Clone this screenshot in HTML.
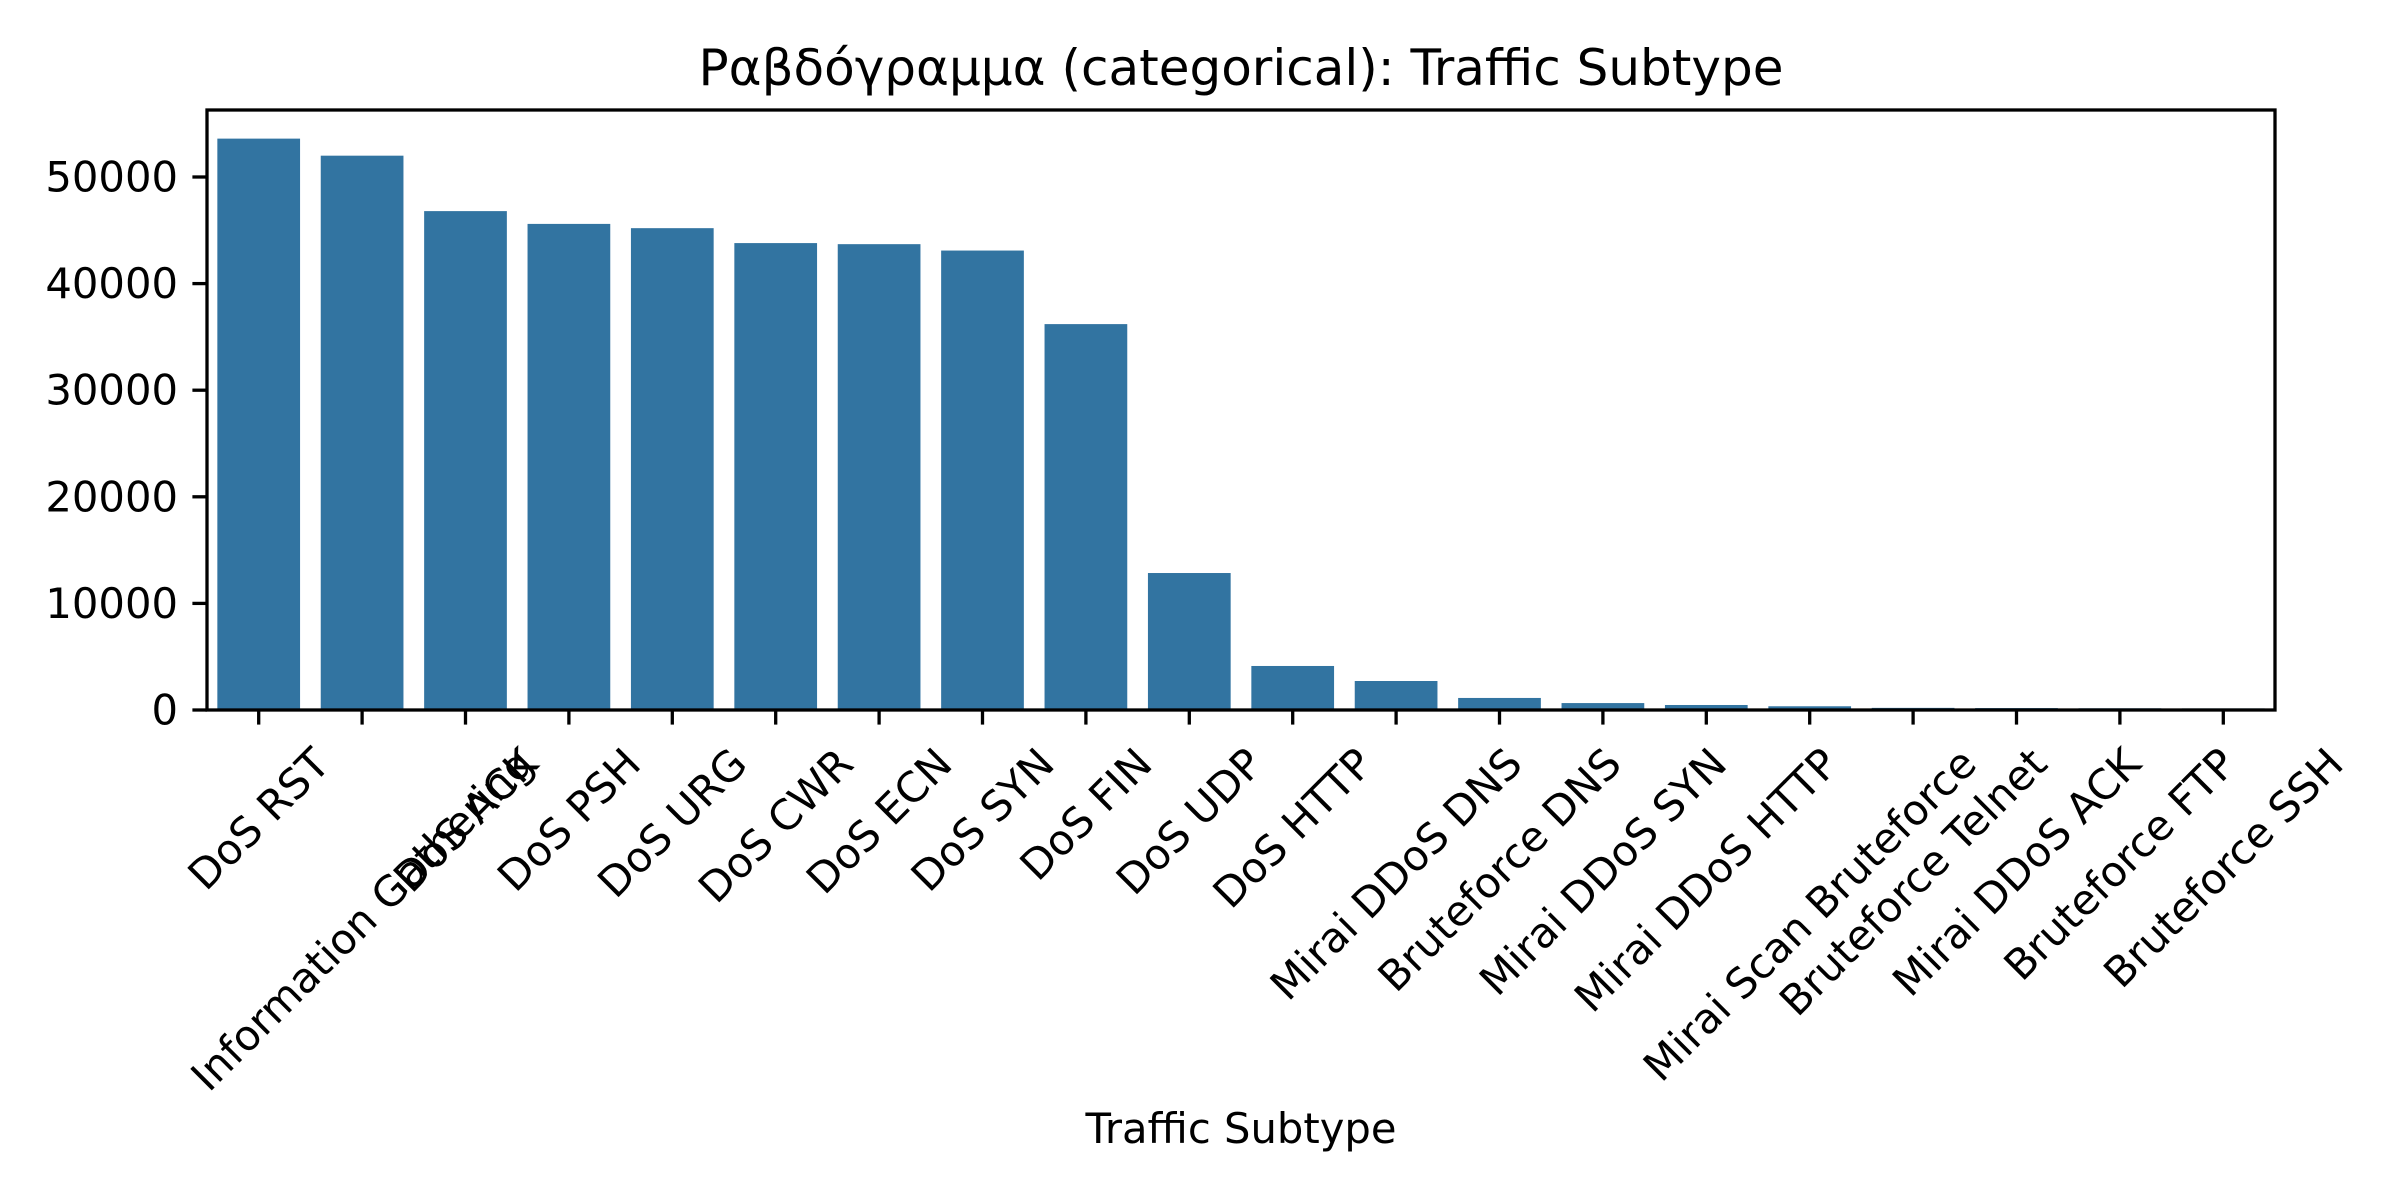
<!DOCTYPE html>
<html><head><meta charset="utf-8">
<style>html,body{margin:0;padding:0;background:#fff}svg{display:block}text{font-family:"DejaVu Sans","Liberation Sans",sans-serif;fill:#000}</style>
</head><body>
<svg id="chart" width="2400" height="1200" viewBox="0 0 2400 1200" xmlns="http://www.w3.org/2000/svg">
<text x="1241" y="85" font-size="50" text-anchor="middle">Ραβδόγραμμα (categorical): Traffic Subtype</text>
<text x="1241" y="1143" font-size="41.7" text-anchor="middle">Traffic Subtype</text>
<g id="bars"></g>
<g id="yaxis"></g>
<g id="xaxis"></g>
<rect x="207" y="110" width="2068" height="600" fill="none" stroke="#000" stroke-width="3.3"/>
</svg>
<script>
const categories = ["DoS RST","Information Gathering","DoS ACK","DoS PSH","DoS URG","DoS CWR","DoS ECN","DoS SYN","DoS FIN","DoS UDP","DoS HTTP","Mirai DDoS DNS","Bruteforce DNS","Mirai DDoS SYN","Mirai DDoS HTTP","Mirai Scan Bruteforce","Bruteforce Telnet","Mirai DDoS ACK","Bruteforce FTP","Bruteforce SSH"];
const counts = [53600,52000,46800,45600,45200,43800,43700,43100,36200,12850,4130,2720,1130,650,470,350,200,180,160,150];
const yTicks = [0,10000,20000,30000,40000,50000];
const yTickLabels = ["0","10000","20000","30000","40000","50000"];

const NS = "http://www.w3.org/2000/svg";
const L = 207, R = 2275, T = 110, B = 710, YMAX = 56285;
const slot = (R - L) / categories.length;
function xC(i){ return L + slot * (i + 0.5); }
function yS(v){ return B - (v / YMAX) * (B - T); }

const gb = document.getElementById('bars');
counts.forEach((v, i) => {
  const r = document.createElementNS(NS, 'rect');
  r.setAttribute('x', xC(i) - slot * 0.4);
  r.setAttribute('width', slot * 0.8);
  r.setAttribute('y', yS(v));
  r.setAttribute('height', B - yS(v));
  r.setAttribute('fill', '#3274a1');
  
  
  gb.appendChild(r);
});

const gy = document.getElementById('yaxis');
yTicks.forEach((v, i) => {
  const y = yS(v);
  const ln = document.createElementNS(NS, 'line');
  ln.setAttribute('x1', L - 14.6); ln.setAttribute('x2', L);
  ln.setAttribute('y1', y); ln.setAttribute('y2', y);
  ln.setAttribute('stroke', '#000'); ln.setAttribute('stroke-width', '3.3');
  
  
  gy.appendChild(ln);
  const t = document.createElementNS(NS, 'text');
  t.setAttribute('x', L - 29); t.setAttribute('y', y + 14.5);
  t.setAttribute('font-size', '41.7'); t.setAttribute('text-anchor', 'end');
  t.textContent = yTickLabels[i];
  
  
  gy.appendChild(t);
});

const gx = document.getElementById('xaxis');
categories.forEach((c, i) => {
  const x = xC(i);
  const ln = document.createElementNS(NS, 'line');
  ln.setAttribute('x1', x); ln.setAttribute('x2', x);
  ln.setAttribute('y1', B); ln.setAttribute('y2', B + 14.6);
  ln.setAttribute('stroke', '#000'); ln.setAttribute('stroke-width', '3.3');
  
  
  gx.appendChild(ln);
  const t = document.createElementNS(NS, 'text');
  t.setAttribute('font-size', '41.7');
  t.setAttribute('text-anchor', 'middle');
  t.setAttribute('dominant-baseline', 'central');
  t.textContent = c;
  
  
  gx.appendChild(t);
  const w = t.getComputedTextLength();
  const h = 48;
  const cy = B + 29 + (w + h) * 0.7071 / 2;
  t.setAttribute('x', x); t.setAttribute('y', cy);
  t.setAttribute('transform', 'rotate(-45 ' + x + ' ' + cy + ')');
});
</script>
</body></html>
